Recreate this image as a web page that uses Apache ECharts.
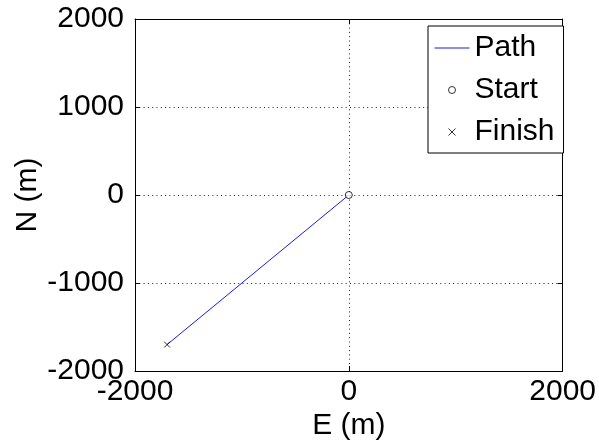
<!DOCTYPE html>
<html>
<head>
<meta charset="utf-8">
<script src="https://cdn.jsdelivr.net/npm/echarts@6/dist/echarts.min.js"></script>
<style>
  html, body { margin: 0; padding: 0; background: #fff; }
  #chart { width: 599px; height: 446px; }
</style>
</head>
<body>
<div id="chart"></div>
<script>
// Ground track: east/north positions in metres
const pathE = [0, -1700];
const pathN = [0, -1700];
const startE = [0];
const startN = [0];
const finishE = [-1700];
const finishN = [-1700];

const xTicks = [-2000, 0, 2000];
const yTicks = [-2000, -1000, 0, 1000, 2000];

const FONT = '"Liberation Sans", Arial, Helvetica, sans-serif';
const FS = 30;
const PATH_COLOR = '#1a1ae0';
const zip = (a, b) => a.map((v, i) => [v, b[i]]);
const crossPath = 'path://M0,0L10,10M10,0L0,10';
const plain = v => String(v);

const chart = echarts.init(document.getElementById('chart'), null, { renderer: 'canvas' });

const baseAxis = {
  type: 'value',
  axisLine: { show: true, onZero: false, lineStyle: { color: '#000', width: 1 } },
  axisTick: { show: true, inside: true, length: 5, lineStyle: { color: '#000' } },
  axisLabel: { color: '#000', fontFamily: FONT, fontSize: FS, formatter: plain },
  nameTextStyle: { color: '#000', fontFamily: FONT, fontSize: FS }
};
const gridDots = { show: true, lineStyle: { color: '#222', width: 1, type: [1, 3.3] } };

chart.setOption({
  animation: false,
  backgroundColor: '#fff',
  grid: { left: 135, right: 33, top: 19, bottom: 75 },
  xAxis: [
    Object.assign({}, baseAxis, {
      position: 'bottom', min: xTicks[0], max: xTicks[xTicks.length - 1], interval: 2000,
      name: 'E (m)', nameLocation: 'middle', nameGap: 40, nameMoveOverlap: false,
      axisLabel: Object.assign({}, baseAxis.axisLabel, { margin: 6 }),
      splitLine: gridDots
    }),
    Object.assign({}, baseAxis, {
      position: 'top', min: xTicks[0], max: xTicks[xTicks.length - 1], interval: 2000,
      axisLabel: { show: false }, splitLine: { show: false }
    })
  ],
  yAxis: [
    Object.assign({}, baseAxis, {
      position: 'left', min: yTicks[0], max: yTicks[yTicks.length - 1], interval: 1000,
      name: 'N (m)', nameLocation: 'middle', nameGap: 92, nameMoveOverlap: false,
      axisLabel: Object.assign({}, baseAxis.axisLabel, { margin: 11 }),
      splitLine: gridDots
    }),
    Object.assign({}, baseAxis, {
      position: 'right', min: yTicks[0], max: yTicks[yTicks.length - 1], interval: 1000,
      axisLabel: { show: false }, splitLine: { show: false }
    })
  ],
  legend: {
    orient: 'vertical',
    left: 428, top: 26,
    padding: [7, 9, 6, 6],
    itemWidth: 35, itemHeight: 7, itemGap: 12, itemTextGap: 1,
    backgroundColor: '#fff',
    borderColor: '#000', borderWidth: 1, borderRadius: 0,
    textStyle: { color: '#000', fontFamily: FONT, fontSize: FS },
    data: [
      { name: 'Path', itemStyle: { color: 'rgba(0,0,0,0)', borderWidth: 0 },
        lineStyle: { color: PATH_COLOR, width: 1 } },
      { name: 'Start', icon: 'circle', itemStyle: { color: '#fff', borderColor: '#000', borderWidth: 1 } },
      { name: 'Finish', icon: crossPath, itemStyle: { color: 'none', borderColor: '#000', borderWidth: 1 } }
    ],
    z: 10
  },
  series: [
    {
      name: 'Path', type: 'line', data: zip(pathE, pathN),
      symbol: 'none', lineStyle: { color: PATH_COLOR, width: 1 },
      itemStyle: { color: PATH_COLOR }, z: 3
    },
    {
      name: 'Start', type: 'scatter', data: zip(startE, startN),
      symbol: 'circle', symbolSize: 7,
      itemStyle: { color: '#fff', borderColor: '#000', borderWidth: 1 }, z: 4
    },
    {
      name: 'Finish', type: 'scatter', data: zip(finishE, finishN),
      symbol: crossPath, symbolSize: 6,
      itemStyle: { color: 'none', borderColor: '#000', borderWidth: 1 }, z: 4
    }
  ]
});
</script>
</body>
</html>
